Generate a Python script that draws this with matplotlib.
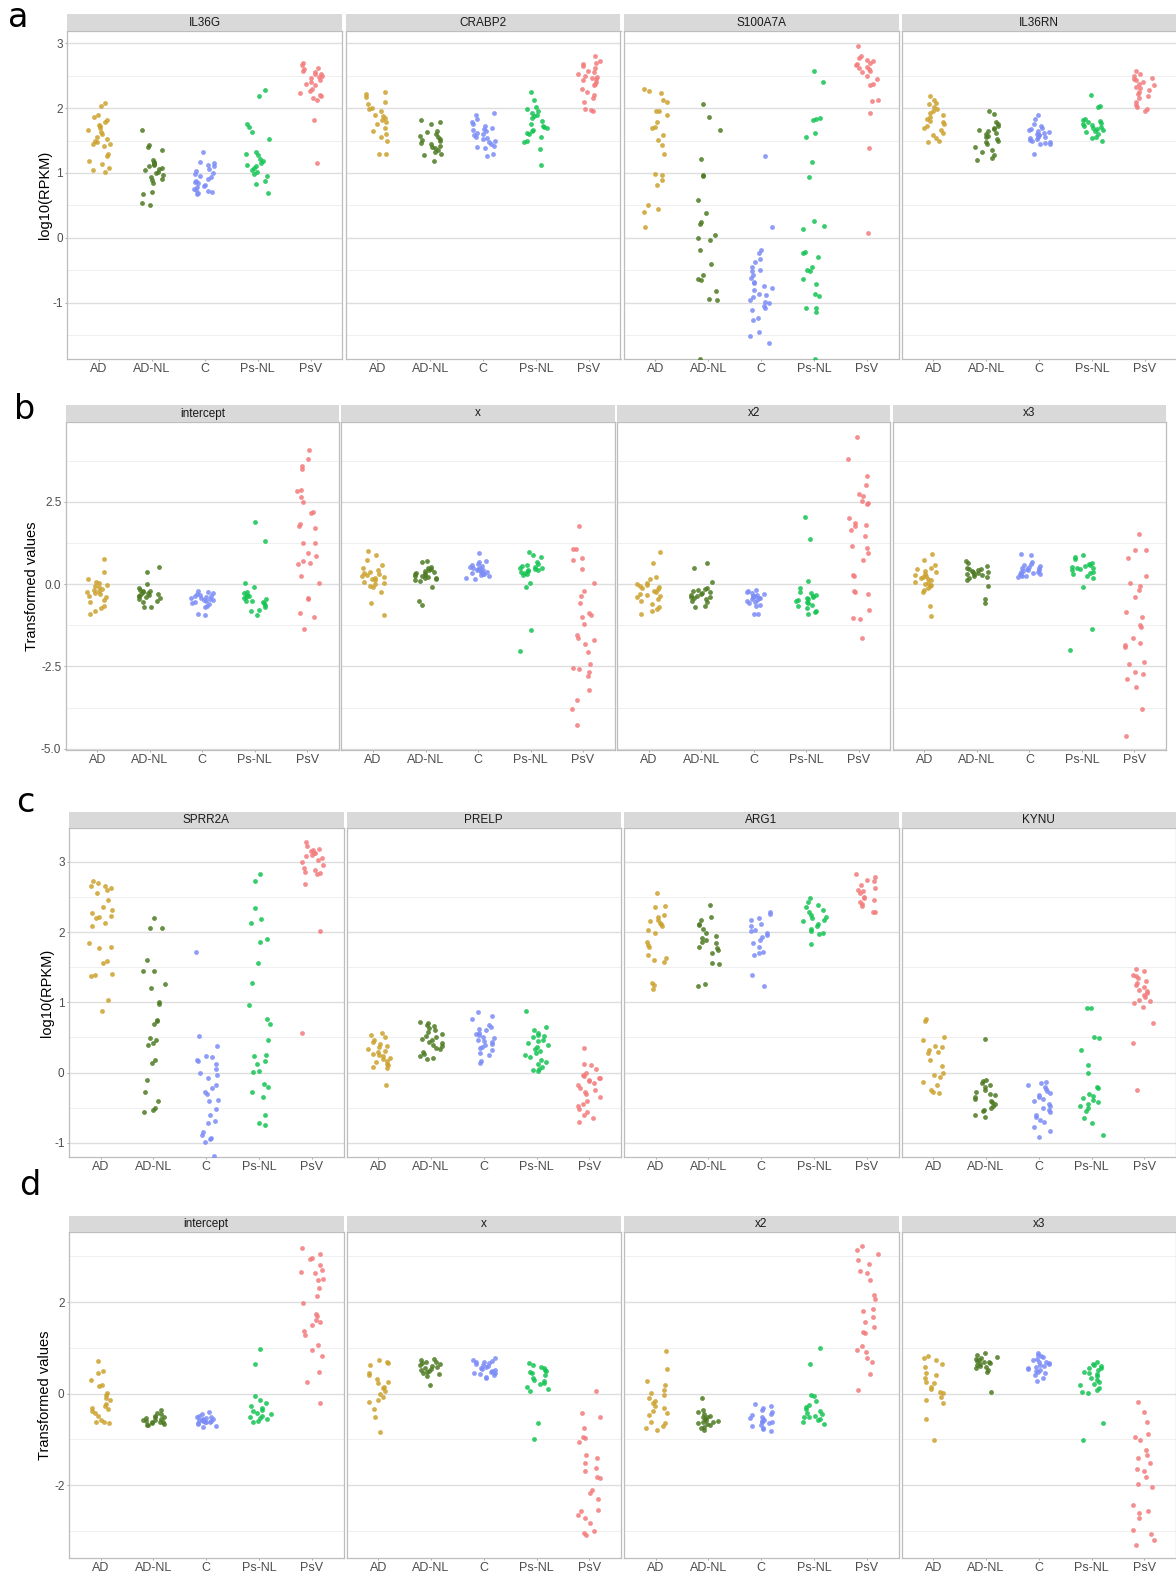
import math
import matplotlib.pyplot as plt

plt.rcParams['font.family'] = ['Liberation Sans', 'DejaVu Sans']

W, H = 1176, 1574
groups = ['AD', 'AD-NL', 'C', 'Ps-NL', 'PsV']
colors = ['#CCA22E', '#4D7A22', '#7B8CF6', '#14C452', '#F47C7C']

# each panel: one list per group, in the order of `groups`
# ---- a: log10(RPKM) ----
IL36G = [
    [2.08, 2.04, 1.90, 1.86, 1.82, 1.78, 1.74, 1.72, 1.70, 1.66, 1.63, 1.60, 1.56,
     1.52, 1.50, 1.47, 1.45, 1.44, 1.42, 1.30, 1.26, 1.19, 1.14, 1.08, 1.04, 1.01],
    [1.67, 1.43, 1.40, 1.36, 1.20, 1.17, 1.15, 1.14, 1.12, 1.10, 1.08, 1.06, 1.04,
     1.02, 1.00, 0.97, 0.94, 0.91, 0.89, 0.85, 0.71, 0.67, 0.53, 0.50],
    [1.32, 1.17, 1.15, 1.13, 1.10, 1.06, 1.03, 1.00, 0.98, 0.95, 0.93, 0.90, 0.88,
     0.86, 0.84, 0.82, 0.80, 0.78, 0.76, 0.74, 0.72, 0.70, 0.69, 0.68],
    [2.28, 2.18, 1.76, 1.71, 1.63, 1.53, 1.32, 1.29, 1.27, 1.22, 1.18, 1.15, 1.12,
     1.10, 1.08, 1.05, 1.02, 0.98, 0.95, 0.87, 0.83, 0.69],
    [2.70, 2.66, 2.62, 2.60, 2.57, 2.55, 2.53, 2.52, 2.50, 2.48, 2.46, 2.43, 2.40,
     2.38, 2.35, 2.30, 2.27, 2.24, 2.21, 2.18, 2.16, 2.13, 1.82, 1.15],
]
CRABP2 = [
    [2.25, 2.22, 2.17, 2.09, 2.07, 2.00, 1.98, 1.95, 1.90, 1.88, 1.85, 1.82, 1.78,
     1.75, 1.70, 1.65, 1.60, 1.55, 1.50, 1.30, 1.29],
    [1.81, 1.79, 1.75, 1.65, 1.63, 1.60, 1.57, 1.55, 1.53, 1.51, 1.49, 1.46, 1.44,
     1.42, 1.40, 1.38, 1.36, 1.33, 1.30, 1.27, 1.18],
    [1.92, 1.89, 1.84, 1.78, 1.75, 1.72, 1.70, 1.68, 1.66, 1.64, 1.62, 1.60, 1.58,
     1.56, 1.54, 1.52, 1.50, 1.47, 1.44, 1.42, 1.40, 1.38, 1.30, 1.26],
    [2.25, 2.12, 2.02, 1.99, 1.96, 1.93, 1.90, 1.88, 1.85, 1.80, 1.76, 1.73, 1.71,
     1.69, 1.67, 1.65, 1.62, 1.60, 1.55, 1.50, 1.47, 1.37, 1.12],
    [2.80, 2.73, 2.70, 2.68, 2.65, 2.62, 2.58, 2.55, 2.52, 2.50, 2.48, 2.47, 2.45,
     2.43, 2.40, 2.37, 2.35, 2.30, 2.25, 2.20, 2.15, 2.10, 1.98, 1.97, 1.95],
]
S100A7A = [
    [2.30, 2.26, 2.23, 2.13, 2.10, 1.96, 1.95, 1.89, 1.78, 1.71, 1.70, 1.58, 1.51,
     1.43, 1.29, 0.99, 0.97, 0.89, 0.81, 0.50, 0.45, 0.40, 0.17],
    [2.07, 1.87, 1.67, 1.22, 0.97, 0.95, 0.58, 0.39, 0.25, 0.22, 0.04, -0.01, -0.04,
     -0.19, -0.41, -0.57, -0.63, -0.65, -0.82, -0.95, -0.96, -1.87],
    [1.26, 0.17, -0.19, -0.24, -0.32, -0.37, -0.45, -0.50, -0.52, -0.57, -0.62, -0.68,
     -0.70, -0.75, -0.78, -0.81, -0.86, -0.88, -0.91, -0.96, -0.99, -1.01, -1.05,
     -1.09, -1.11, -1.24, -1.27, -1.45, -1.52, -1.63],
    [2.58, 2.41, 1.85, 1.84, 1.81, 1.61, 1.56, 1.17, 0.94, 0.26, 0.18, 0.14, -0.22,
     -0.24, -0.29, -0.45, -0.49, -0.52, -0.63, -0.71, -0.86, -0.90, -1.08, -1.09,
     -1.14, -1.87],
    [2.96, 2.81, 2.78, 2.75, 2.72, 2.70, 2.68, 2.66, 2.63, 2.62, 2.60, 2.58, 2.55,
     2.50, 2.45, 2.37, 2.35, 2.13, 2.11, 1.93, 1.39, 0.08],
]
IL36RN = [
    [2.19, 2.12, 2.08, 2.06, 2.02, 1.98, 1.95, 1.92, 1.89, 1.86, 1.83, 1.80, 1.78,
     1.75, 1.72, 1.69, 1.66, 1.62, 1.58, 1.54, 1.50, 1.48],
    [1.96, 1.91, 1.78, 1.76, 1.73, 1.70, 1.68, 1.66, 1.64, 1.62, 1.60, 1.57, 1.55,
     1.52, 1.50, 1.47, 1.44, 1.40, 1.36, 1.32, 1.27, 1.23, 1.20],
    [1.89, 1.84, 1.76, 1.73, 1.70, 1.68, 1.66, 1.64, 1.63, 1.62, 1.60, 1.59, 1.58,
     1.56, 1.55, 1.54, 1.52, 1.51, 1.50, 1.48, 1.46, 1.45, 1.44, 1.30],
    [2.21, 2.03, 2.02, 1.84, 1.82, 1.80, 1.78, 1.77, 1.75, 1.74, 1.72, 1.71, 1.70,
     1.68, 1.67, 1.65, 1.63, 1.60, 1.56, 1.54, 1.50],
    [2.57, 2.53, 2.50, 2.47, 2.45, 2.43, 2.40, 2.38, 2.35, 2.33, 2.31, 2.28, 2.25,
     2.22, 2.18, 2.15, 2.10, 2.05, 2.02, 1.98, 1.96],
]

# ---- b: transformed values ----
b_intercept = [
    [0.78, 0.37, 0.17, 0.08, 0.03, -0.02, -0.06, -0.10, -0.14, -0.18, -0.21, -0.25,
     -0.28, -0.31, -0.35, -0.40, -0.47, -0.53, -0.65, -0.72, -0.82, -0.91],
    [0.53, 0.37, 0.00, -0.13, -0.17, -0.20, -0.22, -0.25, -0.27, -0.29, -0.31, -0.33,
     -0.35, -0.37, -0.39, -0.42, -0.45, -0.50, -0.55, -0.68, -0.70],
    [-0.22, -0.25, -0.28, -0.30, -0.32, -0.35, -0.37, -0.39, -0.41, -0.43, -0.45,
     -0.47, -0.49, -0.51, -0.53, -0.56, -0.60, -0.65, -0.70, -0.90, -0.93],
    [1.89, 1.32, 0.05, -0.08, -0.25, -0.28, -0.32, -0.35, -0.40, -0.43, -0.46, -0.50,
     -0.52, -0.55, -0.58, -0.62, -0.70, -0.78, -0.82, -0.93],
    [4.07, 3.80, 3.59, 3.49, 2.86, 2.83, 2.65, 2.50, 2.18, 2.15, 1.84, 1.76, 1.72,
     1.26, 1.25, 0.96, 0.86, 0.71, 0.63, 0.60, 0.25, 0.04, -0.42, -0.44, -0.89,
     -1.01, -1.37],
]
b_x = [
    [1.01, 0.88, 0.75, 0.58, 0.48, 0.42, 0.38, 0.33, 0.30, 0.27, 0.24, 0.21, 0.18,
     0.15, 0.12, 0.08, 0.05, 0.02, -0.05, -0.10, -0.23, -0.56, -0.94],
    [0.70, 0.68, 0.52, 0.48, 0.45, 0.42, 0.40, 0.38, 0.35, 0.33, 0.30, 0.28, 0.26,
     0.24, 0.22, 0.20, 0.18, 0.15, 0.12, 0.10, -0.08, -0.51, -0.64],
    [0.96, 0.72, 0.68, 0.62, 0.58, 0.55, 0.52, 0.50, 0.48, 0.46, 0.44, 0.42, 0.40,
     0.38, 0.36, 0.34, 0.32, 0.30, 0.27, 0.24, 0.20, 0.17],
    [0.98, 0.88, 0.83, 0.67, 0.62, 0.58, 0.55, 0.52, 0.50, 0.48, 0.46, 0.44, 0.42,
     0.40, 0.37, 0.33, 0.30, 0.27, 0.04, -0.08, -1.40, -2.04],
    [1.77, 1.08, 1.06, 0.80, 0.73, 0.45, 0.05, -0.20, -0.36, -0.57, -0.89, -0.94,
     -0.99, -1.20, -1.55, -1.63, -1.70, -1.83, -2.06, -2.44, -2.56, -2.58, -2.66,
     -2.80, -3.22, -3.53, -3.78, -4.27],
]
b_x2 = [
    [0.98, 0.63, 0.22, 0.17, 0.05, 0.02, -0.02, -0.05, -0.10, -0.13, -0.16, -0.20,
     -0.25, -0.30, -0.33, -0.37, -0.40, -0.45, -0.52, -0.60, -0.68, -0.75, -0.83,
     -0.90],
    [0.63, 0.48, 0.07, -0.12, -0.15, -0.18, -0.21, -0.24, -0.27, -0.30, -0.32, -0.35,
     -0.38, -0.40, -0.43, -0.46, -0.50, -0.55, -0.66, -0.68],
    [-0.18, -0.22, -0.25, -0.28, -0.30, -0.33, -0.35, -0.37, -0.39, -0.41, -0.43,
     -0.46, -0.48, -0.51, -0.55, -0.58, -0.62, -0.66, -0.90, -0.91],
    [2.03, 1.37, 0.09, -0.11, -0.23, -0.28, -0.32, -0.36, -0.40, -0.43, -0.46, -0.49,
     -0.52, -0.55, -0.58, -0.62, -0.67, -0.72, -0.80, -0.85, -0.92],
    [4.48, 3.82, 3.29, 3.01, 2.74, 2.67, 2.52, 2.48, 2.45, 2.00, 1.86, 1.79, 1.76,
     1.66, 1.46, 1.17, 1.10, 0.96, 0.74, 0.27, 0.24, -0.21, -0.23, -0.31, -0.79,
     -1.04, -1.06, -1.63],
]
b_x3 = [
    [0.91, 0.75, 0.58, 0.50, 0.45, 0.40, 0.36, 0.32, 0.28, 0.25, 0.22, 0.18, 0.15,
     0.12, 0.08, 0.04, 0.00, -0.02, -0.05, -0.12, -0.18, -0.25, -0.66, -0.97],
    [0.71, 0.65, 0.55, 0.50, 0.47, 0.45, 0.42, 0.40, 0.38, 0.36, 0.34, 0.32, 0.30,
     0.28, 0.25, 0.22, 0.18, 0.14, -0.06, -0.44, -0.57],
    [0.93, 0.88, 0.68, 0.62, 0.58, 0.55, 0.52, 0.50, 0.48, 0.46, 0.44, 0.42, 0.40,
     0.38, 0.36, 0.34, 0.32, 0.30, 0.28, 0.26, 0.24, 0.22],
    [0.90, 0.83, 0.78, 0.65, 0.60, 0.57, 0.54, 0.52, 0.50, 0.48, 0.45, 0.42, 0.38,
     0.35, 0.30, 0.25, 0.20, -0.08, -1.35, -2.01],
    [1.53, 1.05, 1.03, 0.80, 0.25, 0.05, -0.05, -0.18, -0.38, -0.84, -0.99, -1.23,
     -1.30, -1.65, -1.80, -1.85, -1.90, -2.36, -2.44, -2.68, -2.72, -2.89, -3.13,
     -3.80, -4.61],
]

# ---- c: log10(RPKM) ----
SPRR2A = [
    [2.73, 2.70, 2.66, 2.65, 2.63, 2.60, 2.55, 2.46, 2.35, 2.32, 2.27, 2.23, 2.21,
     2.20, 2.13, 2.09, 1.85, 1.79, 1.78, 1.59, 1.56, 1.41, 1.39, 1.37, 1.03, 0.88],
    [2.20, 2.06, 2.06, 1.60, 1.45, 1.44, 1.26, 1.21, 1.00, 0.98, 0.75, 0.73, 0.69,
     0.49, 0.47, 0.42, 0.39, 0.18, 0.14, -0.11, -0.28, -0.40, -0.51, -0.53, -0.56],
    [1.71, 0.52, 0.38, 0.23, 0.22, 0.18, 0.16, 0.12, 0.05, -0.01, -0.03, -0.07, -0.17,
     -0.22, -0.27, -0.30, -0.39, -0.41, -0.52, -0.60, -0.69, -0.71, -0.84, -0.89,
     -0.93, -0.95, -0.98, -1.19],
    [2.83, 2.73, 2.34, 2.19, 2.13, 1.90, 1.86, 1.56, 1.28, 0.96, 0.77, 0.69, 0.47,
     0.25, 0.23, 0.17, 0.12, 0.03, 0.01, -0.16, -0.20, -0.28, -0.34, -0.60, -0.71,
     -0.75],
    [3.28, 3.22, 3.18, 3.16, 3.15, 3.13, 3.12, 3.10, 3.08, 3.05, 3.03, 3.00, 2.96,
     2.91, 2.88, 2.86, 2.84, 2.82, 2.69, 2.02, 0.56],
]
PRELP = [
    [0.57, 0.53, 0.50, 0.47, 0.44, 0.41, 0.38, 0.36, 0.33, 0.31, 0.29, 0.27, 0.25,
     0.23, 0.21, 0.19, 0.17, 0.15, 0.13, 0.11, 0.08, 0.06, -0.17],
    [0.72, 0.70, 0.68, 0.66, 0.63, 0.60, 0.58, 0.55, 0.52, 0.50, 0.48, 0.46, 0.44,
     0.42, 0.40, 0.38, 0.35, 0.33, 0.30, 0.27, 0.24, 0.21, 0.20],
    [0.86, 0.80, 0.76, 0.68, 0.65, 0.62, 0.60, 0.57, 0.55, 0.53, 0.51, 0.49, 0.47,
     0.45, 0.43, 0.41, 0.39, 0.37, 0.35, 0.32, 0.28, 0.25, 0.16, 0.14],
    [0.88, 0.65, 0.61, 0.56, 0.54, 0.52, 0.50, 0.47, 0.45, 0.42, 0.40, 0.37, 0.34,
     0.31, 0.28, 0.25, 0.22, 0.18, 0.15, 0.12, 0.08, 0.05, 0.04, 0.02],
    [0.35, 0.13, 0.11, 0.05, 0.00, -0.03, -0.05, -0.07, -0.08, -0.10, -0.12, -0.15,
     -0.18, -0.22, -0.25, -0.28, -0.30, -0.35, -0.40, -0.45, -0.48, -0.52, -0.56,
     -0.60, -0.65, -0.70],
]
ARG1 = [
    [2.56, 2.37, 2.35, 2.24, 2.21, 2.17, 2.15, 2.13, 2.12, 2.08, 2.03, 1.98, 1.86,
     1.82, 1.79, 1.67, 1.63, 1.60, 1.57, 1.27, 1.25, 1.19],
    [2.39, 2.22, 2.17, 2.12, 2.10, 2.05, 1.98, 1.95, 1.91, 1.89, 1.86, 1.84, 1.79,
     1.77, 1.75, 1.70, 1.56, 1.55, 1.26, 1.23],
    [2.29, 2.26, 2.20, 2.17, 2.12, 2.08, 2.03, 2.01, 1.98, 1.96, 1.93, 1.89, 1.84,
     1.79, 1.72, 1.70, 1.67, 1.39, 1.23],
    [2.48, 2.43, 2.39, 2.36, 2.32, 2.29, 2.24, 2.22, 2.20, 2.17, 2.15, 2.12, 2.09,
     2.05, 2.01, 1.98, 1.97, 1.83],
    [2.83, 2.79, 2.74, 2.72, 2.67, 2.62, 2.60, 2.58, 2.55, 2.50, 2.48, 2.46, 2.43,
     2.40, 2.37, 2.29, 2.28],
]
KYNU = [
    [0.76, 0.74, 0.51, 0.46, 0.38, 0.36, 0.32, 0.30, 0.28, 0.18, 0.09, -0.01, -0.03,
     -0.06, -0.13, -0.18, -0.25, -0.27, -0.29],
    [0.48, -0.10, -0.12, -0.15, -0.18, -0.21, -0.24, -0.27, -0.30, -0.32, -0.35,
     -0.37, -0.40, -0.42, -0.45, -0.48, -0.50, -0.53, -0.55, -0.60, -0.63],
    [-0.13, -0.15, -0.18, -0.20, -0.23, -0.26, -0.29, -0.32, -0.35, -0.38, -0.41,
     -0.44, -0.47, -0.50, -0.53, -0.56, -0.60, -0.63, -0.67, -0.70, -0.77, -0.83,
     -0.91],
    [0.92, 0.92, 0.51, 0.49, 0.32, 0.11, 0.00, -0.20, -0.22, -0.30, -0.33, -0.36,
     -0.39, -0.42, -0.45, -0.48, -0.51, -0.55, -0.64, -0.72, -0.88],
    [1.48, 1.44, 1.39, 1.37, 1.35, 1.30, 1.28, 1.25, 1.22, 1.18, 1.16, 1.13, 1.10,
     1.08, 1.04, 1.02, 0.99, 0.94, 0.71, 0.42, -0.25],
]

# ---- d: transformed values ----
d_intercept = [
    [0.71, 0.49, 0.44, 0.30, 0.19, 0.17, 0.01, -0.03, -0.10, -0.14, -0.23, -0.26,
     -0.31, -0.33, -0.39, -0.43, -0.48, -0.57, -0.61, -0.63, -0.65],
    [-0.35, -0.42, -0.45, -0.48, -0.50, -0.52, -0.54, -0.55, -0.57, -0.58, -0.60,
     -0.61, -0.62, -0.63, -0.65, -0.66, -0.68, -0.69],
    [-0.40, -0.45, -0.48, -0.50, -0.52, -0.54, -0.55, -0.56, -0.57, -0.58, -0.59,
     -0.60, -0.61, -0.62, -0.63, -0.65, -0.67, -0.70, -0.72],
    [0.97, 0.64, -0.05, -0.15, -0.21, -0.28, -0.32, -0.35, -0.38, -0.42, -0.45, -0.48,
     -0.50, -0.53, -0.56, -0.59, -0.62],
    [3.17, 3.06, 2.97, 2.93, 2.81, 2.70, 2.65, 2.63, 2.50, 2.48, 2.30, 2.13, 1.97,
     1.74, 1.70, 1.61, 1.57, 1.50, 1.37, 1.28, 1.06, 0.95, 0.82, 0.47, 0.26, -0.21],
]
d_x = [
    [0.73, 0.70, 0.66, 0.63, 0.44, 0.41, 0.33, 0.26, 0.23, 0.15, 0.12, 0.06, -0.01,
     -0.07, -0.14, -0.19, -0.33, -0.52, -0.83],
    [0.76, 0.73, 0.70, 0.68, 0.66, 0.64, 0.62, 0.60, 0.58, 0.56, 0.54, 0.52, 0.50,
     0.48, 0.45, 0.42, 0.38, 0.19],
    [0.77, 0.74, 0.72, 0.70, 0.68, 0.66, 0.64, 0.62, 0.60, 0.58, 0.56, 0.54, 0.52,
     0.50, 0.48, 0.46, 0.44, 0.42, 0.40, 0.37, 0.34],
    [0.66, 0.62, 0.58, 0.55, 0.52, 0.50, 0.48, 0.45, 0.40, 0.35, 0.30, 0.27, 0.24,
     0.20, 0.15, 0.10, 0.05, -0.65, -0.99],
    [0.06, -0.43, -0.50, -0.74, -0.94, -0.96, -1.05, -1.34, -1.41, -1.52, -1.63,
     -1.69, -1.81, -1.85, -2.10, -2.17, -2.31, -2.54, -2.57, -2.66, -2.72, -2.83,
     -3.01, -3.05, -3.08],
]
d_x2 = [
    [0.94, 0.54, 0.28, 0.19, 0.08, 0.01, -0.04, -0.10, -0.17, -0.21, -0.26, -0.32,
     -0.39, -0.43, -0.47, -0.61, -0.65, -0.70, -0.76, -0.79],
    [-0.10, -0.36, -0.40, -0.45, -0.48, -0.50, -0.52, -0.55, -0.57, -0.59, -0.61,
     -0.63, -0.65, -0.67, -0.69, -0.72, -0.76, -0.80],
    [-0.23, -0.28, -0.32, -0.36, -0.40, -0.44, -0.47, -0.50, -0.53, -0.55, -0.57,
     -0.59, -0.61, -0.63, -0.65, -0.68, -0.71, -0.75, -0.78, -0.82],
    [1.00, 0.64, -0.03, -0.05, -0.17, -0.25, -0.30, -0.34, -0.38, -0.42, -0.45, -0.48,
     -0.50, -0.52, -0.55, -0.58, -0.62, -0.67],
    [3.22, 3.13, 3.06, 2.92, 2.84, 2.68, 2.63, 2.48, 2.15, 2.07, 1.85, 1.81, 1.68,
     1.57, 1.46, 1.35, 1.32, 1.03, 0.95, 0.92, 0.77, 0.68, 0.43, 0.08],
]
d_x3 = [
    [0.83, 0.77, 0.73, 0.64, 0.59, 0.44, 0.41, 0.35, 0.26, 0.23, 0.15, 0.10, 0.04,
     0.01, -0.07, -0.14, -0.21, -0.55, -1.01],
    [0.88, 0.84, 0.80, 0.78, 0.76, 0.74, 0.72, 0.70, 0.68, 0.66, 0.64, 0.62, 0.60,
     0.58, 0.55, 0.52, 0.48, 0.03],
    [0.89, 0.85, 0.82, 0.79, 0.76, 0.73, 0.70, 0.68, 0.66, 0.64, 0.62, 0.60, 0.58,
     0.56, 0.54, 0.52, 0.50, 0.47, 0.44, 0.40, 0.35, 0.28],
    [0.70, 0.65, 0.62, 0.60, 0.57, 0.55, 0.52, 0.48, 0.45, 0.42, 0.38, 0.35, 0.30,
     0.25, 0.22, 0.18, 0.12, 0.08, 0.04, 0.02, -0.65, -1.01],
    [-0.19, -0.41, -0.63, -0.89, -0.94, -1.01, -1.23, -1.34, -1.40, -1.51, -1.64,
     -1.69, -1.81, -1.98, -2.03, -2.43, -2.57, -2.61, -2.72, -2.97, -3.07, -3.19,
     -3.30],
]

rows = [
    dict(letter='a', ylabel='log10(RPKM)',
         panels=[('IL36G', IL36G), ('CRABP2', CRABP2), ('S100A7A', S100A7A), ('IL36RN', IL36RN)],
         ylim=(-1.87, 3.19), major=[-1, 0, 1, 2, 3], labels=['-1', '0', '1', '2', '3'],
         minor=[-1.5, -0.5, 0.5, 1.5, 2.5],
         left=67.4, width=275, gap=3.1, strip_top=14, panel_top=31, panel_bot=359,
         ylabel_x=45, letter_xy=(8, 27)),
    dict(letter='b', ylabel='Transformed values',
         panels=[('intercept', b_intercept), ('x', b_x), ('x2', b_x2), ('x3', b_x3)],
         ylim=(-5.04, 4.93), major=[-5, -2.5, 0, 2.5], labels=['-5.0', '-2.5', '0.0', '2.5'],
         minor=[-3.75, -1.25, 1.25, 3.75],
         left=65.8, width=273, gap=2.7, strip_top=405, panel_top=422, panel_bot=750,
         ylabel_x=32, letter_xy=(14, 419)),
    dict(letter='c', ylabel='log10(RPKM)',
         panels=[('SPRR2A', SPRR2A), ('PRELP', PRELP), ('ARG1', ARG1), ('KYNU', KYNU)],
         ylim=(-1.2, 3.48), major=[-1, 0, 1, 2, 3], labels=['-1', '0', '1', '2', '3'],
         minor=[-0.5, 0.5, 1.5, 2.5],
         left=69, width=274.5, gap=3, strip_top=812, panel_top=828, panel_bot=1157,
         ylabel_x=47, letter_xy=(16, 812)),
    dict(letter='d', ylabel='Transformed values',
         panels=[('intercept', d_intercept), ('x', d_x), ('x2', d_x2), ('x3', d_x3)],
         ylim=(-3.59, 3.53), major=[-2, 0, 2], labels=['-2', '0', '2'],
         minor=[-3, -1, 1, 3],
         left=69, width=274.5, gap=3, strip_top=1216, panel_top=1232, panel_bot=1558,
         ylabel_x=45, letter_xy=(19, 1195)),
]


def box(x0, y0, x1, y1):
    # pixel box (top-left origin) -> figure fraction rect
    return [x0 / W, 1 - y1 / H, (x1 - x0) / W, (y1 - y0) / H]


def jitter(n, seed, w=0.22):
    # fixed, repeatable horizontal spread (position only, not data)
    out = []
    for i in range(n):
        h = math.sin((i + 1) * 12.9898 + seed * 78.233) * 43758.5453
        out.append(((h - math.floor(h)) - 0.5) * 2 * w)
    return out


fig = plt.figure(figsize=(W / 100, H / 100), dpi=100)

seed = 0
for row in rows:
    for k, (title, data) in enumerate(row['panels']):
        x0 = row['left'] + k * (row['width'] + row['gap'])
        x1 = x0 + row['width']
        ax = fig.add_axes(box(x0, row['panel_top'], x1, row['panel_bot']))
        for g, vals in enumerate(data):
            seed += 1
            xs = [g + 1 + j for j in jitter(len(vals), seed)]
            ax.scatter(xs, vals, s=12, color=colors[g], alpha=0.85, linewidths=0, zorder=3)
        ax.set_xlim(0.4, 5.6)
        ax.set_ylim(*row['ylim'])
        ax.set_xticks(range(1, 6))
        ax.set_xticklabels(groups)
        ax.set_yticks(row['major'])
        ax.set_yticks(row['minor'], minor=True)
        ax.grid(which='major', axis='y', color='#DEDEDE', lw=1.0)
        ax.grid(which='minor', axis='y', color='#EFEFEF', lw=0.7)
        ax.set_axisbelow(True)
        for sp in ax.spines.values():
            sp.set_color('#BDBDBD')
            sp.set_linewidth(0.9)
        ax.tick_params(which='minor', length=0)
        ax.tick_params(which='major', length=1.6, width=0.7, color='#A8A8A8',
                       labelcolor='#4D4D4D', pad=1.6)
        ax.tick_params(axis='x', labelsize=9)
        if k == 0:
            ax.set_yticklabels(row['labels'])
            ax.tick_params(axis='y', labelsize=8.5)
        else:
            ax.tick_params(axis='y', left=False, labelleft=False)

        sax = fig.add_axes(box(x0, row['strip_top'], x1, row['panel_top']))
        sax.set_facecolor('#D9D9D9')
        sax.set_xticks([])
        sax.set_yticks([])
        for sp in sax.spines.values():
            sp.set_visible(False)
        sax.text(0.5, 0.5, title, ha='center', va='center', fontsize=8.5,
                 color='#1A1A1A', transform=sax.transAxes)

    yc = (row['panel_top'] + row['panel_bot']) / 2
    fig.text(row['ylabel_x'] / W, 1 - yc / H, row['ylabel'], rotation=90,
             ha='center', va='center', fontsize=10.5, color='black')
    lx, ly = row['letter_xy']
    fig.text(lx / W, 1 - ly / H, row['letter'], ha='left', va='baseline',
             fontsize=24, family='DejaVu Sans', color='black')

fig.savefig('out.png', dpi=100)
